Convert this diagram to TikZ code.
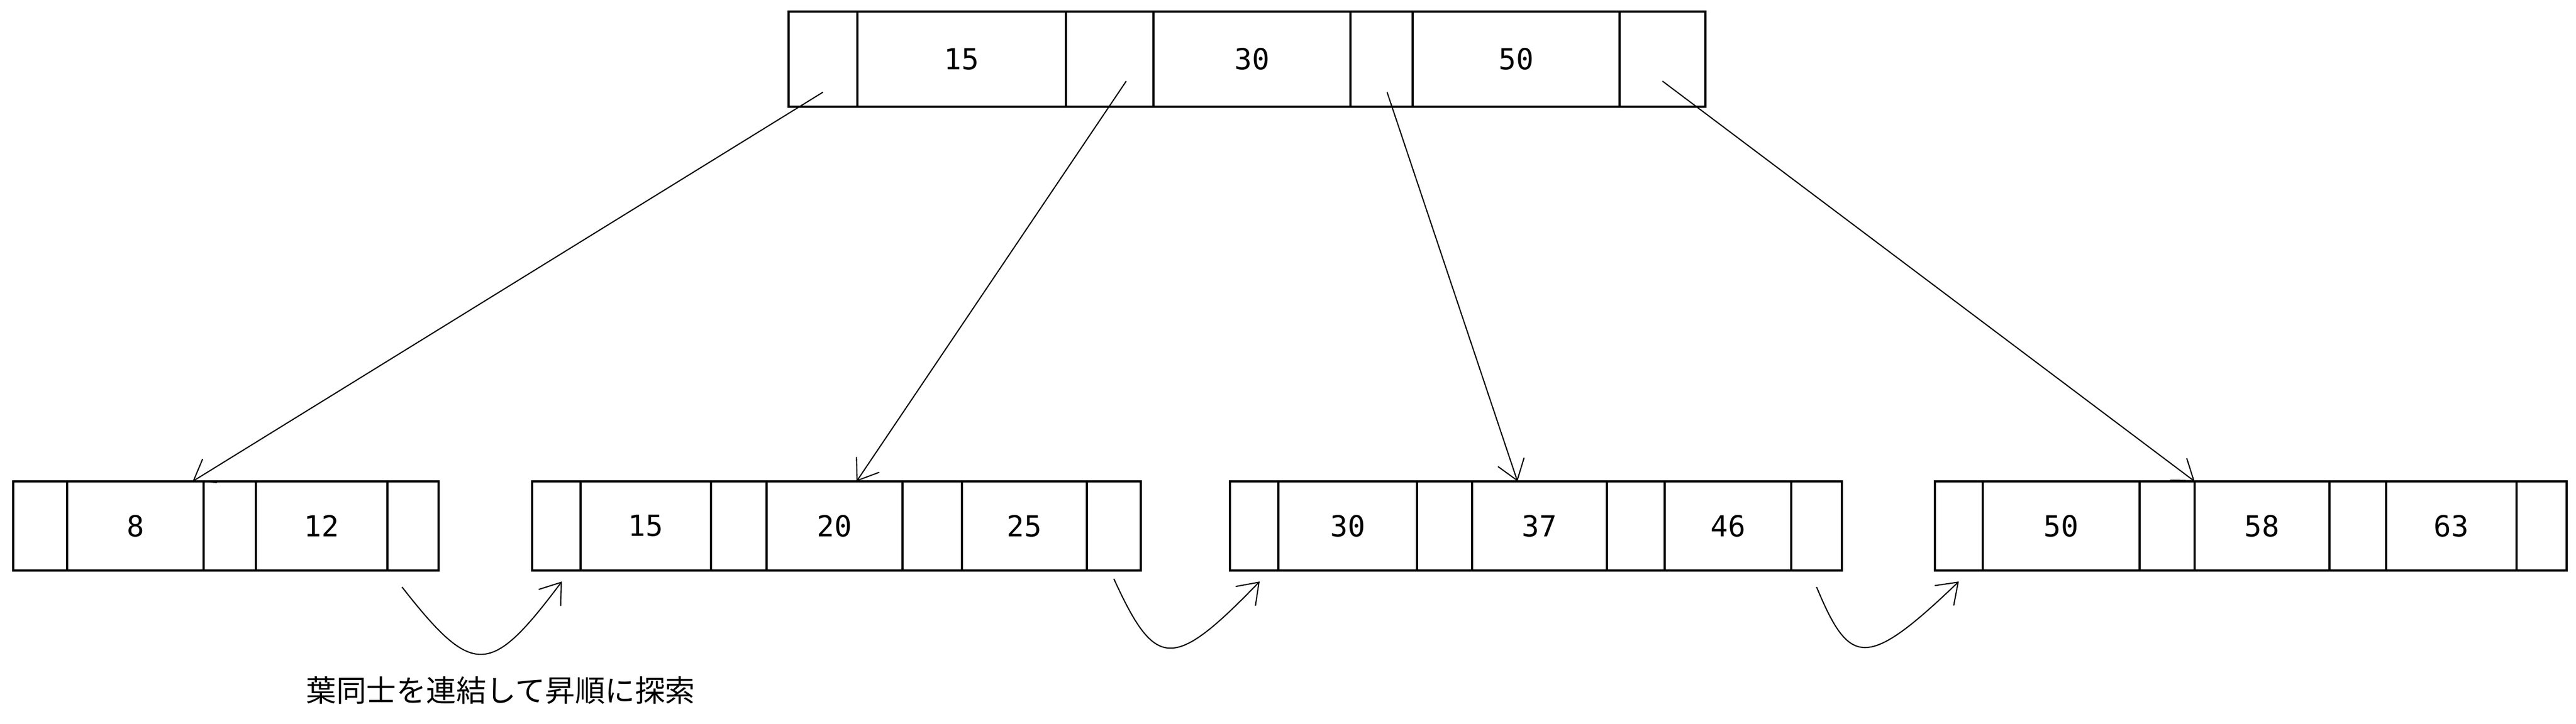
\documentclass[tikz,border=0pt]{standalone}
\usepackage{fontspec}
\setmonofont{DejaVu Sans Mono}
\newfontfamily\jpfont{Noto Sans CJK JP}
\usetikzlibrary{positioning,arrows.meta}
\tikzset{
    cell/.style={draw,line width=0.9pt,inner sep=0pt,outer sep=0pt,minimum height=1.62cm,font=\ttfamily\fontsize{15}{18}\selectfont},
    rootcell/.style={cell,minimum height=1.73cm},
    link/.style={line width=0.6pt,-{Straight Barb[length=3.5mm,width=5mm]}}
}
\begin{document}
\begin{tikzpicture}
    \useasboundingbox (0,0) rectangle (46.81,-13.16);
    % root
    \node[rootcell,minimum width=1.25cm,anchor=west] (ta) at (14.33,-1.075) {};
    \node[rootcell,minimum width=3.79cm,right=0pt of ta] (tk15) {15};
    \node[rootcell,minimum width=1.59cm,right=0pt of tk15] (tb) {};
    \node[rootcell,minimum width=3.58cm,right=0pt of tb] (tk30) {30};
    \node[rootcell,minimum width=1.13cm,right=0pt of tk30] (tc) {};
    \node[rootcell,minimum width=3.76cm,right=0pt of tc] (tk50) {50};
    \node[rootcell,minimum width=1.56cm,right=0pt of tk50] (td) {};

    % leaves
    \node[cell,minimum width=0.98cm,anchor=west] (l1a) at (0.24,-9.56) {};
    \node[cell,minimum width=2.48cm,right=0pt of l1a] (l1k8) {8};
    \node[cell,minimum width=0.95cm,right=0pt of l1k8] (l1b) {};
    \node[cell,minimum width=2.39cm,right=0pt of l1b] (l1k12) {12};
    \node[cell,minimum width=0.93cm,right=0pt of l1k12] (l1c) {};

    \node[cell,minimum width=0.88cm,anchor=west] (l2a) at (9.67,-9.56) {};
    \node[cell,minimum width=2.37cm,right=0pt of l2a] (l2k15) {15};
    \node[cell,minimum width=1.01cm,right=0pt of l2k15] (l2b) {};
    \node[cell,minimum width=2.47cm,right=0pt of l2b] (l2k20) {20};
    \node[cell,minimum width=1.08cm,right=0pt of l2k20] (l2c) {};
    \node[cell,minimum width=2.27cm,right=0pt of l2c] (l2k25) {25};
    \node[cell,minimum width=0.98cm,right=0pt of l2k25] (l2d) {};

    \node[cell,minimum width=0.88cm,anchor=west] (l3a) at (22.35,-9.56) {};
    \node[cell,minimum width=2.52cm,right=0pt of l3a] (l3k30) {30};
    \node[cell,minimum width=1.00cm,right=0pt of l3k30] (l3b) {};
    \node[cell,minimum width=2.45cm,right=0pt of l3b] (l3k37) {37};
    \node[cell,minimum width=1.05cm,right=0pt of l3k37] (l3c) {};
    \node[cell,minimum width=2.30cm,right=0pt of l3c] (l3k46) {46};
    \node[cell,minimum width=0.92cm,right=0pt of l3k46] (l3d) {};

    \node[cell,minimum width=0.87cm,anchor=west] (l4a) at (35.16,-9.56) {};
    \node[cell,minimum width=2.85cm,right=0pt of l4a] (l4k50) {50};
    \node[cell,minimum width=1.00cm,right=0pt of l4k50] (l4b) {};
    \node[cell,minimum width=2.45cm,right=0pt of l4b] (l4k58) {58};
    \node[cell,minimum width=1.03cm,right=0pt of l4k58] (l4c) {};
    \node[cell,minimum width=2.37cm,right=0pt of l4c] (l4k63) {63};
    \node[cell,minimum width=0.91cm,right=0pt of l4k63] (l4d) {};

    \node[font=\jpfont\fontsize{15.5}{18}\selectfont,anchor=west,inner sep=0pt] (note) at (5.56,-12.55) {葉同士を連結して昇順に探索};

    % root -> leaves
\draw [link] ([yshift=-6mm]ta.center) -- ([xshift=-2mm]l1k8.north east);
\draw [link] ([xshift=3mm,yshift=-4mm]tb.center) -- ([xshift=4mm]l2k20.north);
\draw [link] ([xshift=1mm,yshift=-6mm]tc.center) -- ([xshift=-4mm]l3k37.north);
\draw [link] ([yshift=-4mm]td.center) -- (l4b.north east);
    % leaf -> leaf
\draw [link] ([xshift=-2mm,yshift=-3mm]l1c.south) .. controls +(1.3,-1.66) and +(-1.3,-1.73) .. ([xshift=1mm,yshift=-2mm]l2a.south);
\draw [link] ([yshift=-1.5mm]l2d.south) .. controls +(0.76,-1.66) and +(-1.58,-1.63) .. ([xshift=1mm,yshift=-2mm]l3a.south);
\draw [link] ([yshift=-3mm]l3d.south) .. controls +(0.6,-1.44) and +(-1.69,-1.62) .. ([yshift=-2mm]l4a.south);
\end{tikzpicture}
\end{document}
